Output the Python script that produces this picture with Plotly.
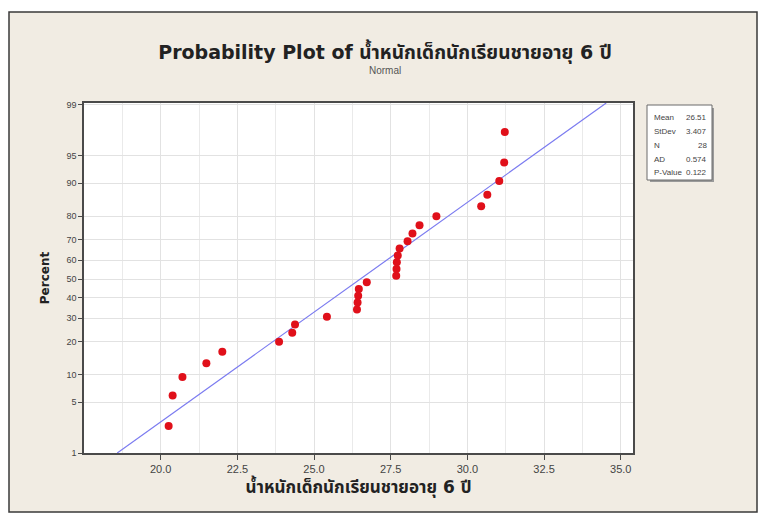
import plotly.graph_objects as go
from statistics import NormalDist

# ---- data ----
weights = [20.26, 20.39, 20.71, 21.49, 22.01, 23.86, 24.29, 24.38, 25.42,
           26.40, 26.42, 26.44, 26.46, 26.72, 27.68, 27.69, 27.70, 27.73,
           27.79, 28.05, 28.21, 28.44, 28.99, 30.45, 30.65, 31.04, 31.20, 31.22]
stat_names = ["Mean", "StDev", "N", "AD", "P-Value"]
stat_values = ["26.51", "3.407", "28", "0.574", "0.122"]
fit_mean = 26.51
fit_sd = 3.407
pct_ticks = [1, 5, 10, 20, 30, 40, 50, 60, 70, 80, 90, 95, 99]
x_ticks = [20.0, 22.5, 25.0, 27.5, 30.0, 32.5, 35.0]

title_text = "Probability Plot of น้ำหนักเด็กนักเรียนชายอายุ 6 ปี"
subtitle_text = "Normal"
xtitle_text = "น้ำหนักเด็กนักเรียนชายอายุ 6 ปี"
ytitle_text = "Percent"

nd = NormalDist()
n = len(weights)
xs = sorted(weights)
zs = [nd.inv_cdf((i + 1 - 0.3) / (n + 0.4)) for i in range(n)]

y_lo, y_hi = nd.inv_cdf(0.01), 2.353
line_z = [y_lo, y_hi]
line_x = [fit_mean + fit_sd * z for z in line_z]

FONT = "Tahoma, 'DejaVu Sans', 'Noto Sans Thai', Arial, sans-serif"
SMALL = "Tahoma, 'Liberation Sans', Arial, sans-serif"

fig = go.Figure()
fig.add_trace(go.Scatter(x=line_x, y=line_z, mode="lines",
                         line=dict(color="#7b7bf0", width=1.2),
                         hoverinfo="skip", showlegend=False))
fig.add_trace(go.Scatter(x=xs, y=zs, mode="markers",
                         marker=dict(color="#e0101a", size=8,
                                     line=dict(width=0)),
                         showlegend=False))

W, H = 765, 520
L, R, T, B = 84, 633, 103, 453
pw, ph = R - L, B - T


def px(x):
    return (x - L) / pw


def py(y):
    return (B - y) / ph


shapes = [
    dict(type="rect", xref="paper", yref="paper", layer="below",
         x0=px(9), x1=px(757), y0=py(512), y1=py(12),
         fillcolor="#f1ece3", line=dict(color="#3a3a3a", width=1.5)),
    dict(type="rect", xref="paper", yref="paper", layer="below",
         x0=0, x1=1, y0=0, y1=1, fillcolor="white", line=dict(width=0)),
    # stats box shadow and box
    dict(type="rect", xref="paper", yref="paper", layer="above",
         x0=px(650), x1=px(714), y0=py(182), y1=py(108),
         fillcolor="#9a9a9a", line=dict(width=0)),
    dict(type="rect", xref="paper", yref="paper", layer="above",
         x0=px(647), x1=px(712), y0=py(180), y1=py(105),
         fillcolor="white", line=dict(color="#6a6a6a", width=1)),
]

annotations = [
    dict(text=subtitle_text, xref="paper", yref="paper",
         x=(385 - L) / pw, y=py(70), showarrow=False,
         font=dict(size=10, color="#555555", family=SMALL),
         xanchor="center", yanchor="middle"),
]
row_y = [117, 131, 145, 159, 172]
for name, val, ry in zip(stat_names, stat_values, row_y):
    annotations.append(dict(text=name, xref="paper", yref="paper",
                            x=px(652), y=py(ry), showarrow=False,
                            xanchor="left", yanchor="middle",
                            font=dict(size=8, color="#444444", family=SMALL)))
    annotations.append(dict(text=val, xref="paper", yref="paper",
                            x=px(709), y=py(ry), showarrow=False,
                            xanchor="right", yanchor="middle",
                            font=dict(size=8, color="#444444", family=SMALL)))

fig.update_layout(
    width=W, height=H,
    margin=dict(l=L, r=W - R, t=T, b=H - B, pad=0),
    paper_bgcolor="white",
    plot_bgcolor="rgba(0,0,0,0)",
    font=dict(family=FONT, color="#333333"),
    title=dict(text="<b>" + title_text + "</b>", x=385 / W, xref="container",
               xanchor="center", y=1 - 52 / H, yref="container",
               yanchor="middle",
               font=dict(size=19, color="#222222", family=FONT)),
    shapes=shapes,
    annotations=annotations,
    showlegend=False,
    xaxis=dict(range=[17.5, 35.4], tickvals=x_ticks,
               ticktext=[f"{v:.1f}" for v in x_ticks],
               showgrid=True, gridcolor="#e2e2e2", gridwidth=1,
               minor=dict(dtick=1.25, tick0=20, showgrid=True,
                          gridcolor="#eaeaea", ticks=""),
               zeroline=False, showline=True, linecolor="#4a4a4a",
               linewidth=1.5, mirror=True, ticks="outside", ticklen=5,
               tickcolor="#4a4a4a",
               tickfont=dict(size=11, color="#444444", family=SMALL),
               title=dict(text="<b>" + xtitle_text + "</b>", standoff=4,
                          font=dict(size=17, color="#222222", family=FONT))),
    yaxis=dict(range=[y_lo, y_hi],
               tickvals=[nd.inv_cdf(p / 100) for p in pct_ticks],
               ticktext=[str(p) for p in pct_ticks],
               showgrid=True, gridcolor="#e2e2e2", gridwidth=1,
               zeroline=False, showline=True, linecolor="#4a4a4a",
               linewidth=1.5, mirror=True, ticks="outside", ticklen=4,
               tickcolor="#4a4a4a",
               tickfont=dict(size=9, color="#444444", family=SMALL),
               title=dict(text="<b>" + ytitle_text + "</b>", standoff=14,
                          font=dict(size=12, color="#222222", family=FONT))),
)

fig.write_html("out.html",
               config={"displayModeBar": False},
               post_script="document.body.style.margin='0';"
                           "document.body.style.overflow='hidden';")
